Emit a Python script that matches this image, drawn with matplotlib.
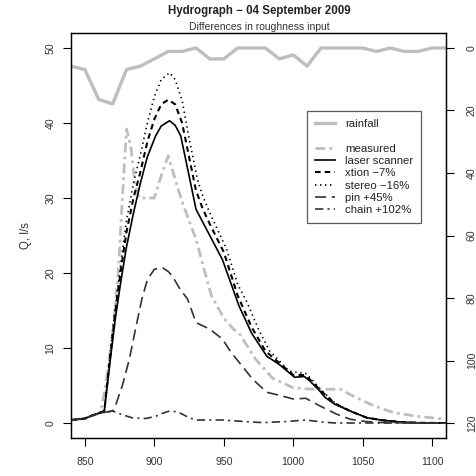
import matplotlib
matplotlib.use("Agg")
import matplotlib.pyplot as plt
from matplotlib.lines import Line2D

plt.rcParams['font.family'] = ['Liberation Sans', 'DejaVu Sans']
plt.rcParams['lines.scale_dashes'] = False

# rainfall, every 10 s
t_rain = [840, 850, 860, 870, 880, 890, 900, 910, 920, 930, 940, 950, 960, 970,
          980, 990, 1000, 1010, 1020, 1030, 1040, 1050, 1060, 1070, 1080, 1090, 1100, 1110]
rain = [5.8, 6.9, 16.5, 17.9, 6.9, 5.8, 3.5, 1.1, 1.1, 0, 3.5, 3.5, 0, 0,
        0, 3.5, 2.2, 5.8, 0, 0, 0, 0, 1.1, 0, 1.1, 1.1, 0, 0]

# discharge series (time s, Q l/s)
t_meas = [840, 850, 860, 862, 865, 870, 874, 877, 880, 883, 886, 889, 900, 905, 910, 915,
          920, 930, 941, 950, 957, 961, 973, 985, 1000, 1014, 1034, 1043, 1058, 1072, 1089, 1110]
q_meas = [0.4, 0.6, 1.3, 2.0, 5.0, 12.0, 20.0, 30.0, 39.2, 37.0, 32.0, 30.0, 30.0, 33.0, 35.6, 32.5,
          29.5, 24.5, 17.0, 14.0, 12.5, 12.0, 8.5, 6.0, 4.7, 4.5, 4.5, 3.6, 2.3, 1.4, 0.9, 0.5]

t_laser = [840, 850, 855, 860, 864, 868, 872, 876, 880, 885, 890, 895, 901, 905, 911, 915, 919,
           925, 930, 949, 961, 970, 981, 990, 1001, 1008, 1012, 1019, 1023, 1030, 1041, 1053,
           1065, 1077, 1090, 1110]
q_laser = [0.4, 0.6, 1.0, 1.3, 1.6, 8.0, 14.0, 19.0, 23.5, 28.0, 32.0, 35.5, 38.3, 39.6, 40.3, 39.7, 38.3,
           33.0, 28.5, 21.8, 15.6, 12.0, 8.9, 7.8, 6.1, 6.2, 5.6, 4.3, 3.4, 2.5, 1.6, 0.7,
           0.35, 0.13, 0.03, 0.0]

t_xtion = [840, 850, 855, 860, 864, 868, 872, 876, 880, 885, 890, 895, 900, 905, 910, 915, 920,
           925, 930, 935, 940, 950, 960, 970, 980, 990, 1000, 1008, 1012, 1020, 1030, 1041, 1053,
           1065, 1077, 1090, 1110]
q_xtion = [0.4, 0.6, 1.0, 1.3, 1.6, 8.5, 15.0, 20.5, 25.5, 30.0, 33.5, 37.5, 40.5, 42.5, 43.1, 42.5, 40.0,
           35.5, 31.0, 28.5, 26.5, 22.8, 17.0, 12.8, 9.6, 8.0, 6.4, 6.4, 5.8, 4.3, 2.6, 1.6, 0.7,
           0.35, 0.13, 0.03, 0.0]

t_stereo = [840, 850, 855, 860, 864, 868, 872, 876, 880, 885, 890, 895, 900, 905, 911, 915, 920,
            925, 931, 935, 940, 952, 960, 967, 975, 983, 990, 997, 1009, 1013, 1020, 1030, 1041, 1053,
            1065, 1077, 1090, 1110]
q_stereo = [0.4, 0.6, 1.0, 1.3, 1.6, 9.0, 15.5, 21.5, 27.0, 32.0, 35.8, 40.0, 43.5, 45.8, 46.7, 45.8, 43.0,
            38.0, 32.5, 30.2, 28.0, 23.2, 18.5, 16.0, 12.5, 9.6, 8.3, 6.9, 6.6, 5.9, 4.4, 2.7, 1.6, 0.7,
            0.35, 0.13, 0.03, 0.0]

t_pin = [840, 850, 860, 870, 872, 877, 882, 887, 891, 895, 900, 906, 910, 913, 918, 924, 930,
         940, 949, 955, 961, 971, 981, 992, 1000, 1009, 1019, 1031, 1041, 1052, 1065, 1110]
q_pin = [0.4, 0.6, 1.3, 1.6, 2.3, 5.0, 8.5, 13.0, 16.5, 19.1, 20.5, 20.7, 20.2, 19.6, 18.0, 16.5, 13.4,
         12.5, 11.2, 9.5, 8.1, 5.8, 4.1, 3.6, 3.2, 3.3, 2.3, 1.2, 0.5, 0.2, 0.05, 0.0]

t_chain = [840, 850, 860, 870, 877, 884, 894, 901, 906, 911, 916, 920, 925, 930, 949, 965,
           978, 995, 1009, 1020, 1030, 1110]
q_chain = [0.4, 0.6, 1.3, 1.6, 1.1, 0.7, 0.6, 0.9, 1.3, 1.6, 1.5, 1.2, 0.7, 0.4, 0.4, 0.2,
           0.05, 0.2, 0.4, 0.15, 0.0, 0.0]

labels = ['rainfall', ' ', 'measured', 'laser scanner', 'xtion \u22127%', 'stereo \u221216%',
          'pin +45%', 'chain +102%']

fig = plt.figure(figsize=(4.77, 4.76), dpi=100)
ax = fig.add_axes([0.1488, 0.0798, 0.7862, 0.8509])
ax2 = ax.twinx()
ax.set_zorder(2)
ax.patch.set_visible(False)

l_rain, = ax2.plot(t_rain, rain, color='#BEBEBE', lw=2.4, solid_joinstyle='round')
ax2.set_ylim(124.8, -4.8)
ax2.set_yticks([0, 20, 40, 60, 80, 100, 120])

l_meas, = ax.plot(t_meas, q_meas, color='#BEBEBE', lw=2.0, dashes=(7, 3, 2, 3))
l_laser, = ax.plot(t_laser, q_laser, color='black', lw=1.2)
l_xtion, = ax.plot(t_xtion, q_xtion, color='black', lw=1.5, dashes=(4, 3))
l_stereo, = ax.plot(t_stereo, q_stereo, color='black', lw=1.2, dashes=(1, 2.6))
l_pin, = ax.plot(t_pin, q_pin, color='#333333', lw=1.2, dashes=(8, 4))
l_chain, = ax.plot(t_chain, q_chain, color='#333333', lw=1.2, dashes=(6, 3, 1.5, 3))

ax.set_xlim(840, 1110)
ax.set_ylim(-2, 52)
ax.set_xticks([850, 900, 950, 1000, 1050, 1100])
ax.set_yticks([0, 10, 20, 30, 40, 50])

for a in (ax, ax2):
    for s in a.spines.values():
        s.set_linewidth(0.9)
    a.tick_params(length=6, width=0.8, labelsize=7.6, colors='black', labelcolor='#333333')
ax.tick_params(axis='x', pad=8)
ax.tick_params(axis='y', pad=5)
ax2.tick_params(axis='y', pad=9)
for lab in ax.get_yticklabels():
    lab.set_rotation(90)
    lab.set_va('center')
for lab in ax2.get_yticklabels():
    lab.set_rotation(90)
    lab.set_va('center')

ax.set_ylabel('Q, l/s', fontsize=8.3, color='#333333', labelpad=10)

fig.text(0.543, 0.977, 'Hydrograph \u2212 04 September 2009', ha='center', va='center',
         fontsize=8.3, fontweight='bold', color='#222222')
fig.text(0.543, 0.943, 'Differences in roughness input', ha='center', va='center',
         fontsize=7.5, color='#333333')

blank = Line2D([], [], color='none')
handles = [l_rain, blank, l_meas, l_laser, l_xtion, l_stereo, l_pin, l_chain]
leg = ax.legend(handles, labels, loc='upper left', bbox_to_anchor=(0.629, 0.807),
                fontsize=8.2, frameon=True, fancybox=False, edgecolor='#333333',
                handlelength=1.8, handletextpad=0.85, labelspacing=0.2,
                borderpad=0.7, borderaxespad=0)
leg.get_frame().set_linewidth(0.9)
for txt in leg.get_texts():
    txt.set_color('#222222')

fig.savefig('out.png', dpi=100)
